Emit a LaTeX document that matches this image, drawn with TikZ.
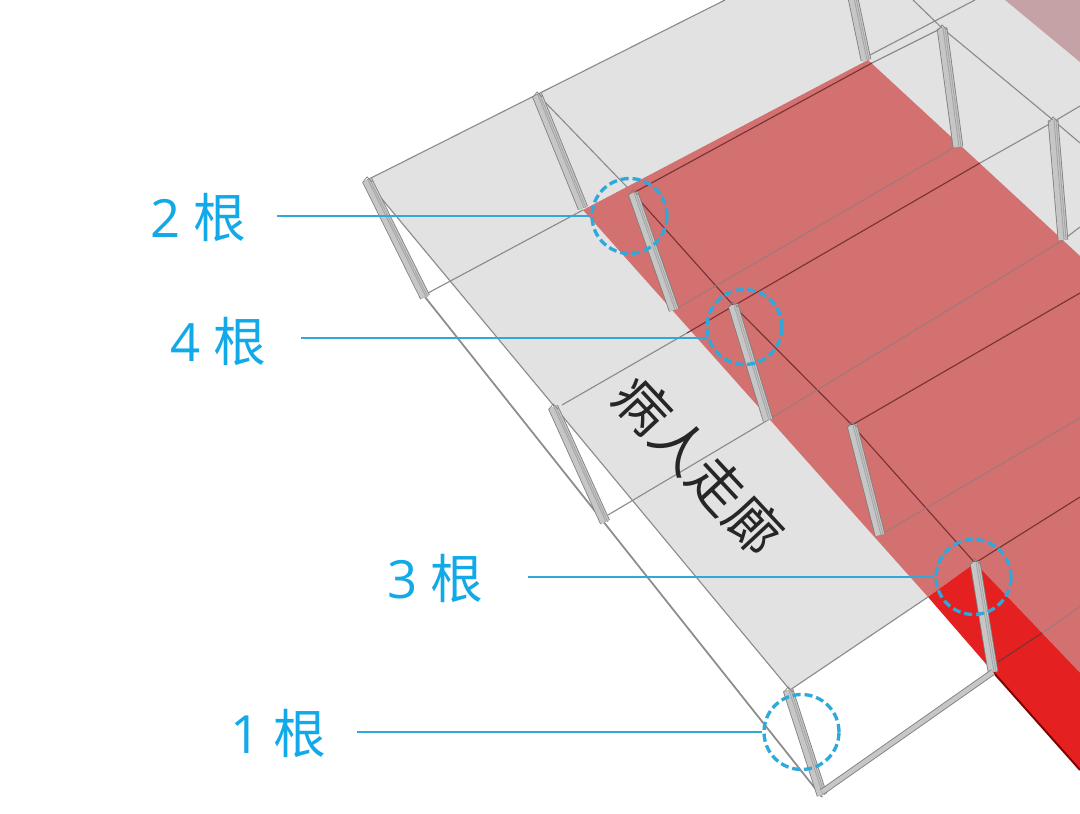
\documentclass[tikz,border=0pt]{standalone}
\usepackage{fontspec}
\setmainfont{Open Sans}
\newfontfamily\cjk{Noto Sans CJK SC}

\definecolor{roofgray}{HTML}{E2E2E2}
\definecolor{wardpink}{HTML}{D37070}
\definecolor{wardred}{HTML}{E52020}
\definecolor{farrose}{HTML}{C4A2A5}
\definecolor{markblue}{HTML}{2FA8DC}
\definecolor{counttext}{HTML}{12A9E8}
\definecolor{beamdark}{HTML}{7E7E7E}
\definecolor{beamlight}{HTML}{C6C6C6}

\begin{document}
\begin{tikzpicture}[x = 0.02 cm, y = -0.02 cm,
	ring/.style = {circle, draw = markblue, line width = 1.9 pt, dash pattern = on 4.6 pt off 2.2 pt, minimum size = 75 * 0.02 cm, inner sep = 0},
	count/.style = {text = counttext, font = \fontsize{30}{30}\selectfont, anchor = east, inner sep = 0},
	leader/.style = {draw = markblue, line width = 1.4 pt, shorten <= #1 * 0.02 cm},
	grayline/.style = {draw = gray!90, line width = 0.65 pt},
	darkline/.style = {draw = red!35!black!80, line width = 0.65 pt},
	faintline/.style = {draw = gray!70!wardpink, line width = 0.5 pt}]

	\useasboundingbox (0, 0) rectangle (1080, 814);

	% Roof and floor

	\fill [roofgray] (367, 180) -- (725, 0) -- (1080, 0) -- (1080, 300) -- (928, 597) -- (790, 690) -- (380, 197) -- cycle;
	\fill [wardpink] (583, 210) -- (868, 60) -- (1080, 256) -- (1080, 680) -- (975, 563) -- (928, 597) -- cycle;
	\fill [farrose] (1005, 0) -- (1080, 0) -- (1080, 62) -- cycle;
	\fill [wardred] (928, 597) -- (975, 563) -- (1080, 673) -- (1080, 770) -- (993, 672) -- cycle;
	\draw [red!50!black, line width = 1.1 pt] (993, 672) -- (1080, 770);

	% Outer edges

	\draw [grayline] (367, 180) -- (725, 0);
	\draw [grayline] (372, 187) -- (790, 690) -- (928, 597);
	\draw [grayline, line width = 1 pt] (425, 297) -- (822, 797);

	% Cross lines

	\draw [grayline] (428, 293) -- (583, 210);
	\draw [grayline] (608, 515) -- (768, 420);
	\draw [grayline] (562, 405) -- (687, 333);
	\draw [grayline] (870, 55) -- (975, 0);
	\draw [grayline] (872, 63) -- (942, 28);
	\draw [grayline] (980, 163) -- (1053, 122) -- (1080, 106);
	\draw [grayline] (1063, 240) -- (1080, 227);
	\draw [grayline] (913, 0) -- (942, 28) -- (1053, 120) -- (1080, 143);
	\draw [grayline] (543, 100) -- (627, 187);

	\draw [darkline] (635, 192) -- (872, 63);
	\draw [darkline] (687, 333) -- (735, 305) -- (980, 163);
	\draw [darkline] (852, 425) -- (1080, 293);
	\draw [darkline] (975, 563) -- (1080, 497);
	\draw [darkline] (998, 662) -- (1042, 633);
	\draw [darkline] (633, 193) -- (733, 305) -- (852, 425) -- (975, 563);

	\draw [faintline] (674, 310) -- (955, 147);
	\draw [faintline] (768, 420) -- (1063, 240);
	\draw [faintline] (880, 535) -- (1080, 418);
	\draw [faintline] (1042, 633) -- (1080, 607);

	% Posts

	\foreach \xa/\ya/\xb/\yb in {367/180/425/297, 537/95/583/208, 633/193/674/310, 733/305/768/420, 852/425/880/535, 975/562/993/672, 788/690/822/795, 553/407/605/522, 853/-2/866/60, 942/28/958/147, 1053/120/1063/240} {
		\draw [beamdark, line width = 6 pt] (\xa, \ya) -- (\xb, \yb);
		\draw [beamlight, line width = 5.1 pt] (\xa, \ya) -- (\xb, \yb);
		\draw [beamdark!70, line width = 0.5 pt] (\xa + 1, \ya) -- (\xb + 1, \yb);
		\draw [beamdark!70, line width = 0.5 pt] (\xa + 3, \ya) -- (\xb + 3, \yb);
		\draw [beamdark, line width = 0.4 pt] (\xa - 4, \ya + 2) -- (\xa, \ya - 3) -- (\xa + 5, \ya + 2);
	}

	% Bottom beam

	\draw [beamdark, line width = 3.6 pt] (822, 792) -- (993, 672);
	\draw [beamlight, line width = 2.6 pt] (822, 792) -- (993, 672);

	% Corridor label

	\node (corridor) [rotate = -47, text = black!85, font = \cjk\fontsize{31}{31}\selectfont] at (699, 465) {病人走廊};

	% Rings and labels

	\node (ring2) [ring] at (629.5, 216) {};
	\node (ring4) [ring] at (744.5, 327) {};
	\node (ring3) [ring] at (973.5, 577) {};
	\node (ring1) [ring] at (801.5, 732) {};

	\node (count2) [count] at (247, 217) {2 {\cjk 根}};
	\node (count4) [count] at (267, 341) {4 {\cjk 根}};
	\node (count3) [count] at (484, 578) {3 {\cjk 根}};
	\node (count1) [count] at (327, 733) {1 {\cjk 根}};

	\draw [leader = 30] (count2.east |- ring2.west) -- (ring2.west);
	\draw [leader = 34] (count4.east |- ring4.196) -- (ring4.196);
	\draw [leader = 44] (count3.east |- ring3.west) -- (ring3.west);
	\draw [leader = 30] (count1.east |- ring1.west) -- (ring1.west);

\end{tikzpicture}
\end{document}
